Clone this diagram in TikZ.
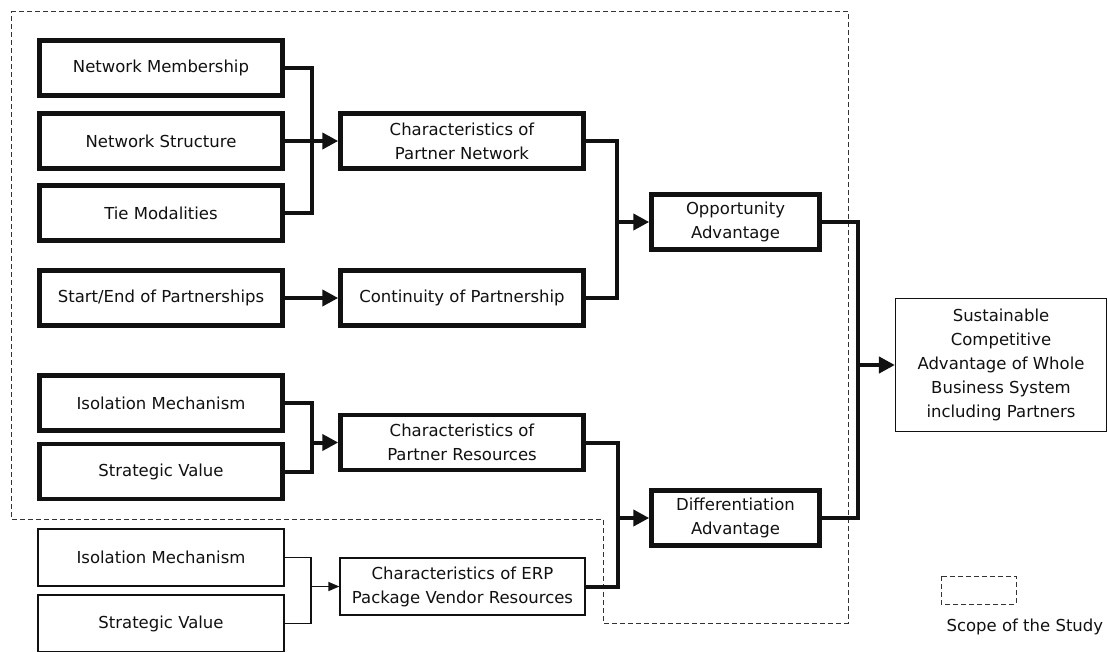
\documentclass[tikz,border=0pt]{standalone}
\usepackage{fontspec}
\setmainfont{DejaVu Sans}
\usepackage{tikz}
\usetikzlibrary{arrows.meta}
\definecolor{ink}{HTML}{111111}
\definecolor{scopegray}{HTML}{333333}
\tikzset{
  bigbox/.style={draw=ink, line width=4.5pt, fill=white, minimum width=243pt, minimum height=55pt, align=center, inner sep=0pt},
  smallbox/.style={draw=ink, line width=1.2pt, fill=white, align=center, inner sep=0pt},
  link/.style={draw=ink, line width=4pt},
  thinlink/.style={draw=ink, line width=1.3pt},
  arr/.style={-{Triangle[length=16pt,width=16pt]}},
  thinarr/.style={-{Triangle[length=11pt,width=9pt]}},
  scopeline/.style={draw=scopegray, line width=1pt, dash pattern=on 5pt off 3pt},
  lbl/.style={text=ink, font=\fontsize{16.5}{24}\selectfont}
}

\begin{document}
\begin{tikzpicture}[x=1pt, y=-1pt]
  \useasboundingbox (0,0) rectangle (1108,651);

  % scope of the study
  \draw[scopeline] (11,11) -- (848,11) -- (848,623) -- (603,623) -- (603,519) -- (11,519) -- cycle;

  % partner network side
  \node[bigbox, lbl] (NM) at (161,68) {Network Membership};
  \node[bigbox, lbl] (NS) at (161,141) {Network Structure};
  \node[bigbox, lbl] (TM) at (161,213) {Tie Modalities};
  \node[bigbox, lbl] (SE) at (161,298) {Start/End of Partnerships};
  \node[bigbox, lbl] (CPN) at (462,141) {Characteristics of\\Partner Network};
  \node[bigbox, lbl] (CP) at (462,298) {Continuity of Partnership};
  \node[bigbox, lbl, minimum width=168pt] (OA) at (735.5,222) {Opportunity\\Advantage};

  % partner resources side
  \node[bigbox, lbl] (IM) at (161,403) {Isolation Mechanism};
  \node[bigbox, lbl] (SV) at (161,471.5) {Strategic Value};
  \node[bigbox, lbl] (CPR) at (462,442.5) {Characteristics of\\Partner Resources};
  \node[bigbox, lbl, minimum width=168pt] (DA) at (735.5,518) {Differentiation\\Advantage};

  % vendor resources (outside the scope)
  \node[smallbox, lbl, minimum width=246pt, minimum height=57pt] (IMv) at (161,557.5) {Isolation Mechanism};
  \node[smallbox, lbl, minimum width=246pt, minimum height=57pt] (SVv) at (161,623.5) {Strategic Value};
  \node[smallbox, lbl, minimum width=245pt, minimum height=57pt] (ERP) at (462.5,586.5) {Characteristics of ERP\\Package Vendor Resources};

  % outcome
  \node[smallbox, lbl, minimum width=211pt, minimum height=133pt] (SCA) at (1001,365) {Sustainable\\Competitive\\Advantage of Whole\\Business System\\including Partners};

  % junctions
  \coordinate (jNet) at (312,141);
  \coordinate (jOpp) at (617,222);
  \coordinate (jRes) at (312,442.5);
  \coordinate (jDif) at (618,518);
  \coordinate (jSca) at (858,365);
  \coordinate (jVen) at (311,586.5);

  \draw[link] (NM.east) -| (jNet);
  \draw[link] (TM.east) -| (jNet);
  \draw[link, arr] (NS.east) -- (CPN.west);
  \draw[link, arr] (SE.east) -- (CP.west);

  \draw[link] (CPN.east) -| (jOpp);
  \draw[link] (CP.east) -| (jOpp);
  \draw[link, arr] (jOpp) -- (OA.west);

  \draw[link] (IM.east) -| (jRes);
  \draw[link] (SV.east) -| (jRes);
  \draw[link, arr] (jRes) -- (CPR.west);

  \draw[link] (CPR.east) -| (jDif);
  \draw[link] (ERP.east) -| (jDif);
  \draw[link, arr] (jDif) -- (DA.west);

  \draw[link] (OA.east) -| (jSca);
  \draw[link] (DA.east) -| (jSca);
  \draw[link, arr] (jSca) -- (SCA.west);

  \draw[thinlink] (IMv.east) -| (jVen);
  \draw[thinlink] (SVv.east) -| (jVen);
  \draw[thinlink, thinarr] (jVen) -- (ERP.west);

  % legend
  \draw[scopeline] (941,576) rectangle (1016,604);
  \node[lbl, anchor=west] (legend) at (943,627) {Scope of the Study};
\end{tikzpicture}
\end{document}
